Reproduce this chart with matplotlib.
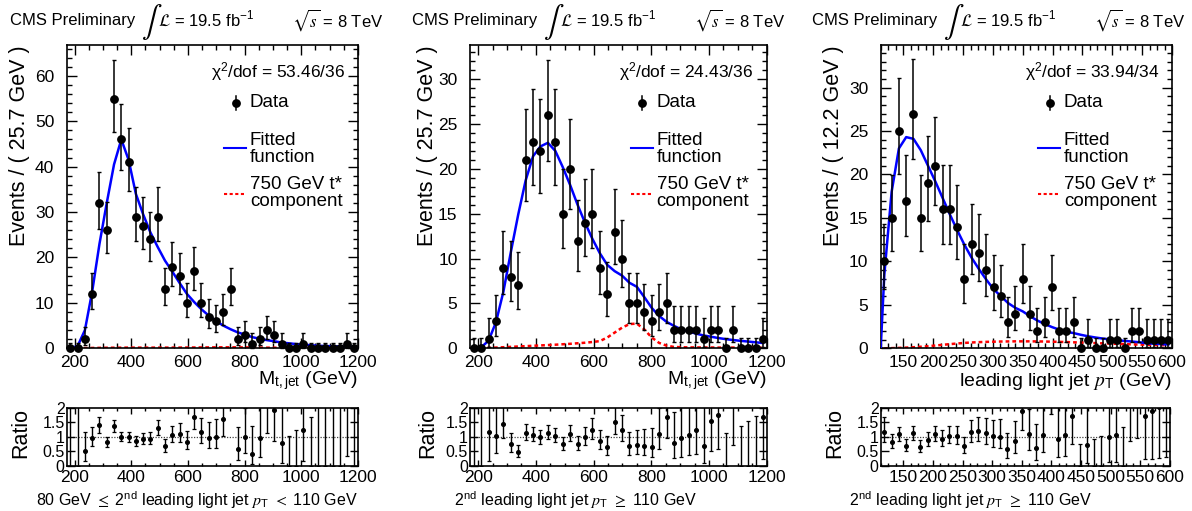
import numpy as np
import matplotlib
matplotlib.use("Agg")
import matplotlib.pyplot as plt
from matplotlib.ticker import MultipleLocator, FixedLocator, FixedFormatter

plt.rcParams['font.family'] = ['Liberation Sans', 'DejaVu Sans']
plt.rcParams['mathtext.fontset'] = 'stix'

# ------------------------------------------------------------------ data
# panel 1 : 80 GeV <= 2nd jet pT < 110 GeV, M_t,jet
x_range_1 = (172.0, 1200.0)
bin_width_1 = 25.7
counts_1 = [0, 0, 2, 12, 32, 26, 55, 46, 41, 29, 27, 24, 29, 13, 18, 16, 10, 17, 10, 7,
            6, 8, 13, 2, 3, 1, 2, 4, 3, 1, 0, 0, 1, 0, 0, 0, 0, 0, 1, 0]
fit_1 = [0.02, 0.5, 4.0, 12.5, 23.0, 32.0, 40.5, 46.0, 41.5, 34.0, 29.5, 25.5, 22.3, 19.3,
         16.9, 14.4, 12.0, 10.2, 8.6, 7.2, 6.0, 5.0, 4.2, 3.5, 3.0, 2.45, 2.1, 1.8, 1.55,
         1.28, 1.1, 0.93, 0.8, 0.68, 0.56, 0.5, 0.45, 0.41, 0.38, 0.35]
tstar_1 = [0.0, 0.02, 0.05, 0.08, 0.1, 0.12, 0.13, 0.14, 0.15, 0.15, 0.15, 0.15, 0.15, 0.15,
           0.15, 0.16, 0.17, 0.18, 0.19, 0.2, 0.21, 0.22, 0.22, 0.21, 0.19, 0.17, 0.15, 0.14,
           0.13, 0.12, 0.12, 0.11, 0.11, 0.1, 0.1, 0.1, 0.1, 0.1, 0.1, 0.1]
chi2_1 = "53.46/36"

# panel 2 : 2nd jet pT >= 110 GeV, M_t,jet
x_range_2 = (172.0, 1200.0)
bin_width_2 = 25.7
counts_2 = [0, 0, 1, 3, 9, 8, 7, 21, 23, 22, 26, 23, 15, 20, 12, 14, 15, 9, 6, 13,
            10, 5, 5, 4, 3, 4, 5, 2, 2, 2, 2, 1, 2, 2, 0, 2, 0, 0, 0, 1]
fit_2 = [0.02, 0.1, 0.85, 2.9, 6.3, 10.7, 14.9, 18.7, 21.4, 22.5, 22.9, 22.0, 20.2, 18.2,
         16.0, 14.0, 12.2, 10.6, 9.3, 8.6, 8.1, 7.3, 6.85, 5.7, 4.5, 3.6, 2.95, 2.5, 2.1,
         1.87, 1.63, 1.43, 1.29, 1.14, 1.02, 0.92, 0.83, 0.75, 0.67, 0.59]
tstar_2 = [0.0, 0.02, 0.05, 0.08, 0.12, 0.16, 0.2, 0.24, 0.28, 0.32, 0.36, 0.4, 0.45, 0.5,
           0.56, 0.62, 0.7, 0.8, 1.2, 1.75, 2.3, 2.7, 2.75, 2.1, 1.2, 0.6, 0.3, 0.15, 0.12,
           0.1, 0.1, 0.09, 0.09, 0.08, 0.08, 0.08, 0.08, 0.08, 0.08, 0.08]
chi2_2 = "24.43/36"

# panel 3 : 2nd jet pT >= 110 GeV, leading light jet pT
x_range_3 = (112.0, 600.0)
bin_width_3 = 12.2
counts_3 = [10, 15, 25, 17, 27, 15, 19, 21, 16, 16, 14, 8, 12, 11, 9, 7, 6, 3, 4, 8,
            4, 2, 3, 7, 2, 2, 3, 0, 1, 0, 0, 1, 1, 0, 2, 2, 1, 1, 1, 1]
fit_3_start = 0.0
fit_3 = [8.5, 18.0, 23.0, 24.3, 24.1, 22.8, 21.0, 19.2, 17.3, 15.4, 13.6, 11.9, 10.4, 9.1,
         7.9, 6.8, 6.0, 5.2, 4.65, 4.25, 3.7, 3.2, 2.8, 2.45, 2.15, 1.9, 1.75, 1.55, 1.38,
         1.24, 1.12, 1.02, 0.93, 0.85, 0.78, 0.7, 0.58, 0.53, 0.49, 0.45]
tstar_3 = [0.0, 0.02, 0.05, 0.08, 0.12, 0.18, 0.24, 0.32, 0.4, 0.48, 0.55, 0.62, 0.67, 0.71,
           0.74, 0.76, 0.78, 0.79, 0.8, 0.8, 0.8, 0.79, 0.78, 0.76, 0.74, 0.72, 0.69, 0.66,
           0.63, 0.6, 0.57, 0.54, 0.51, 0.48, 0.45, 0.43, 0.41, 0.39, 0.37, 0.35]
chi2_3 = "33.94/34"

y_labels = ["Events / ( 25.7 GeV )", "Events / ( 25.7 GeV )", "Events / ( 12.2 GeV )"]
x_labels = [r"M$_{\mathregular{t,jet}}$ (GeV)", r"M$_{\mathregular{t,jet}}$ (GeV)",
            r"leading light jet $p_{\mathregular{T}}$ (GeV)"]
ratio_labels = [r"80 GeV $\leq$ 2$^{\mathregular{nd}}$ leading light jet $p_{\mathregular{T}}$ $<$ 110 GeV",
                r"2$^{\mathregular{nd}}$ leading light jet $p_{\mathregular{T}}$ $\geq$ 110 GeV",
                r"2$^{\mathregular{nd}}$ leading light jet $p_{\mathregular{T}}$ $\geq$ 110 GeV"]
legend_data = "Data"
legend_fit = "Fitted\nfunction"
legend_tstar = "750 GeV t*\ncomponent"
ratio_ticks = [0, 0.5, 1, 1.5, 2]
ratio_tick_labels = ["0", "0.5", "1", "1.5", "2"]
zero_upper_err = 1.15

# ------------------------------------------------------------------ layout
W, H = 1192, 511
fig = plt.figure(figsize=(W / 100, H / 100), dpi=100)


def fx(px):
    return px / W


def fy(py):
    return 1 - py / H


def add_axes(l, t, r, b):
    return fig.add_axes([fx(l), fy(b), (r - l) / W, (b - t) / H])


main_boxes = [(66.7, 45, 358, 348.3), (470, 45, 766.7, 348.3), (880.7, 45, 1172, 348.3)]
ratio_boxes = [(66.7, 407.7, 358, 466), (470, 407.7, 766.7, 466), (880.7, 407.7, 1170, 466)]
header_x = [10, 412, 812]
ylabel_x = [20, 427, 834]
ratio_xlabel_cx = [197, 576, 971]

panels = [
    dict(rng=x_range_1, bw=bin_width_1, counts=counts_1, fit=fit_1, tstar=tstar_1,
         chi2=chi2_1, ymax=66.8, ymaj=10, ymin=2, xmaj=200, xmin=50, fit_start=None),
    dict(rng=x_range_2, bw=bin_width_2, counts=counts_2, fit=fit_2, tstar=tstar_2,
         chi2=chi2_2, ymax=33.8, ymaj=5, ymin=1, xmaj=200, xmin=50, fit_start=None),
    dict(rng=x_range_3, bw=bin_width_3, counts=counts_3, fit=fit_3, tstar=tstar_3,
         chi2=chi2_3, ymax=34.9, ymaj=5, ymin=1, xmaj=50, xmin=12.5, fit_start=fit_3_start),
]


def style_axes(ax, maj_len, min_len, ylen=None):
    ax.tick_params(which='both', direction='in', top=True, right=True, width=1.0)
    ax.tick_params(axis='x', which='major', length=maj_len, labelsize=12.5, pad=5)
    ax.tick_params(axis='x', which='minor', length=min_len)
    ax.tick_params(axis='y', which='major', length=ylen if ylen else maj_len, labelsize=12.5, pad=9)
    ax.tick_params(axis='y', which='minor', length=min_len)
    for s in ax.spines.values():
        s.set_linewidth(1.2)


for i, p in enumerate(panels):
    counts = np.array(p['counts'], dtype=float)
    fit = np.array(p['fit'], dtype=float)
    tstar = np.array(p['tstar'], dtype=float)
    nb = len(counts)
    x0 = p['rng'][0]
    centers = x0 + p['bw'] * (np.arange(nb) + 0.5)

    # asymmetric Poisson errors
    err_lo = np.where(counts > 0, np.sqrt(np.clip(counts - 0.25, 0, None)), 0.0)
    err_hi = np.where(counts > 0, np.sqrt(counts + 0.75) + 1.0, zero_upper_err)

    # ---------------- main panel
    ax = add_axes(*main_boxes[i])
    ax.set_xlim(*p['rng'])
    ax.set_ylim(0, p['ymax'])
    if p['fit_start'] is not None:
        fx_line = np.r_[x0, centers]
        fy_line = np.r_[p['fit_start'], fit]
    else:
        fx_line, fy_line = centers, fit
    ax.plot(centers, tstar, color='#ff0000', lw=1.8, ls=(0, (1.5, 1.2)), zorder=2)
    ax.plot(fx_line, fy_line, color='#0000ff', lw=1.8, zorder=3)
    eb = ax.errorbar(centers, counts, yerr=[err_lo, err_hi], fmt='o', color='black',
                     ms=5.3, capsize=1.3, elinewidth=1.1, capthick=1.0, zorder=4)
    for art in eb.get_children():
        art.set_clip_on(False)
    ax.xaxis.set_major_locator(MultipleLocator(p['xmaj']))
    ax.xaxis.set_minor_locator(MultipleLocator(p['xmin']))
    ax.yaxis.set_major_locator(MultipleLocator(p['ymaj']))
    ax.yaxis.set_minor_locator(MultipleLocator(p['ymin']))
    style_axes(ax, 7, 3.5)

    # legend
    T = ax.transAxes
    ax.text(0.955, 0.912, r"$\mathregular{\chi^{2}}$/dof = " + p['chi2'], transform=T,
            ha='right', va='center', fontsize=12.5)
    ax.plot([0.581], [0.81], 'o', color='black', ms=5.3, transform=T, clip_on=False)
    ax.plot([0.581, 0.581], [0.787, 0.833], color='black', lw=1.1, transform=T)
    ax.text(0.629, 0.81, legend_data, transform=T, ha='left', va='center', fontsize=13.5)
    ax.plot([0.541, 0.616], [0.659, 0.659], color='#0000ff', lw=1.5, transform=T)
    ax.text(0.629, 0.657, legend_fit, transform=T, ha='left', va='center', fontsize=13.5,
            linespacing=1.0)
    ax.plot([0.541, 0.616], [0.509, 0.509], color='#ff0000', lw=1.5, ls=(0, (1.5, 1.2)),
            transform=T)
    ax.text(0.629, 0.511, legend_tstar, transform=T, ha='left', va='center', fontsize=13.5,
            linespacing=1.0)

    # axis titles
    l, t, r, b = main_boxes[i]
    fig.text(fx(ylabel_x[i]), fy(t), y_labels[i], rotation=90, ha='center', va='top',
             fontsize=15.5)
    fig.text(fx(r), fy(381), x_labels[i], ha='right', va='center', fontsize=14)

    # header
    hx = header_x[i]
    fig.text(fx(hx), fy(20), "CMS Preliminary", ha='left', va='center', fontsize=12)
    fig.text(fx(hx + 131), fy(22), r"$\int$", ha='left', va='center', fontsize=22)
    fig.text(fx(hx + 148), fy(20), r"$\mathcal{L}$ = 19.5 fb$^{\mathregular{-1}}$", ha='left',
             va='center', fontsize=12)
    fig.text(fx(hx + 282), fy(20), r"$\sqrt{s}$ = 8 TeV", ha='left', va='center',
             fontsize=12)

    # ---------------- ratio panel
    rx = add_axes(*ratio_boxes[i])
    rx.set_xlim(*p['rng'])
    rx.set_ylim(0, 2)
    ratio = counts / fit
    r_lo = err_lo / fit
    r_hi = err_hi / fit
    rx.axhline(1, color='0.25', ls=(0, (1, 1.2)), lw=0.9, zorder=1)
    nz = counts > 0
    rx.errorbar(centers[nz], ratio[nz], yerr=[r_lo[nz], r_hi[nz]], fmt='o', color='black',
                ms=2.6, capsize=1.5, elinewidth=1.0, capthick=0.9, zorder=3)
    rx.errorbar(centers[~nz], ratio[~nz], yerr=[r_lo[~nz], r_hi[~nz]], fmt='none',
                ecolor='black', capsize=1.5, elinewidth=1.0, capthick=0.9, zorder=3)
    rx.xaxis.set_major_locator(MultipleLocator(p['xmaj']))
    rx.xaxis.set_minor_locator(MultipleLocator(p['xmin']))
    rx.yaxis.set_major_locator(FixedLocator(ratio_ticks))
    rx.yaxis.set_major_formatter(FixedFormatter(ratio_tick_labels))
    style_axes(rx, 4, 2, ylen=6)
    rx.tick_params(axis='y', pad=1.5, labelsize=11.5)
    rx.tick_params(axis='x', pad=3)

    rl, rt, rr, rb = ratio_boxes[i]
    fig.text(fx(ylabel_x[i] + 1), fy((rt + rb) / 2 - 4), "Ratio", rotation=90, ha='center',
             va='center', fontsize=15.5)
    fig.text(fx(ratio_xlabel_cx[i]), fy(499), ratio_labels[i], ha='center', va='center',
             fontsize=11.5)

fig.savefig("out.png", dpi=100)
